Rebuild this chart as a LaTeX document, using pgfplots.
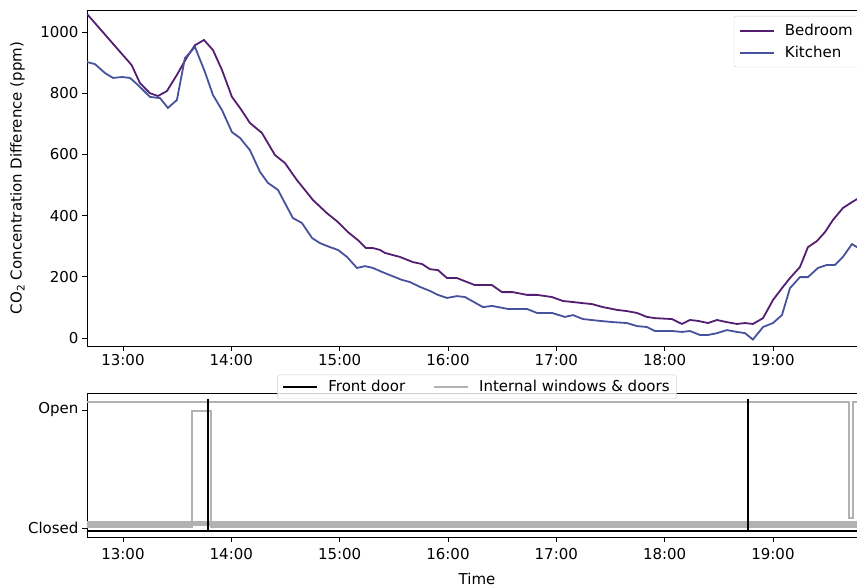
\documentclass[border=0pt]{standalone}
\usepackage{fontspec}
\setmainfont{DejaVu Sans}
\usepackage{pgfplots}
\usepackage{pgfplotstable}
\pgfplotsset{compat=1.18}
\definecolor{bedroom}{RGB}{84,30,112}
\definecolor{kitchen}{RGB}{72,82,156}
\definecolor{gline}{RGB}{178,178,178}

\pgfplotstableread{
t v
12.668 1059
13.080 892
13.157 833
13.249 800
13.323 791
13.406 807
13.498 860
13.591 918
13.665 957
13.748 974
13.831 941
13.914 876
14.006 788
14.080 752
14.172 703
14.283 670
14.403 598
14.495 572
14.606 516
14.754 451
14.883 408
14.985 379
15.077 346
15.169 320
15.243 294
15.308 294
15.372 288
15.419 278
15.557 265
15.677 248
15.760 242
15.834 225
15.908 222
15.991 196
16.083 196
16.176 183
16.249 173
16.406 173
16.499 150
16.600 150
16.729 141
16.822 141
16.960 134
17.062 121
17.145 118
17.246 114
17.329 111
17.431 101
17.560 92
17.652 88
17.745 82
17.837 69
17.911 65
18.068 62
18.160 46
18.234 59
18.308 56
18.400 49
18.483 59
18.575 52
18.667 46
18.742 49
18.815 46
18.908 65
19.000 124
19.083 163
19.157 196
19.249 232
19.323 297
19.406 317
19.480 346
19.554 386
19.646 425
19.729 444
19.776 454
19.822 460
}\bedroomdata

\pgfplotstableread{
t v
12.668 902
12.742 895
12.834 866
12.908 850
12.991 853
13.065 850
13.138 827
13.249 788
13.342 784
13.415 752
13.498 778
13.572 915
13.665 951
13.757 869
13.831 794
13.914 745
14.006 673
14.080 654
14.172 614
14.265 543
14.338 507
14.431 484
14.495 441
14.569 392
14.652 376
14.745 327
14.819 310
14.911 297
14.985 288
15.068 265
15.160 229
15.234 235
15.308 229
15.372 219
15.419 212
15.575 190
15.649 183
15.742 167
15.834 154
15.908 141
15.991 131
16.083 137
16.157 134
16.323 101
16.406 105
16.554 95
16.729 95
16.822 82
16.960 82
17.080 69
17.154 75
17.246 62
17.403 56
17.523 52
17.652 49
17.745 39
17.837 36
17.911 23
18.068 23
18.160 20
18.234 23
18.326 10
18.400 10
18.483 16
18.575 26
18.667 20
18.742 16
18.815 -5
18.908 36
19.000 49
19.083 75
19.157 163
19.249 199
19.323 199
19.415 229
19.498 239
19.572 239
19.646 265
19.729 307
19.776 297
19.822 290
}\kitchendata

\begin{document}
\begin{tikzpicture}[font=\fontsize{15}{18}\selectfont]
\pgfplotsset{
  every axis/.append style={
    scale only axis, width=780pt,
    xmin=12.668, xmax=19.868,
    tick align=outside, xtick pos=bottom, ytick pos=left,
    major tick length=5pt,
    axis line style={line width=0.9pt},
    every tick/.style={black, line width=0.9pt},
    xtick={13,14,15,16,17,18,19},
    xticklabels={13:00,14:00,15:00,16:00,17:00,18:00,19:00},
    /pgf/number format/assume math mode=true,
    /pgf/number format/1000 sep={},
    legend cell align=left,
  }
}
\begin{axis}[at={(0,191pt)}, height=336pt,
  ymin=-26, ymax=1072, ytick={0,200,400,600,800,1000},
  ylabel={CO\textsubscript{2} Concentration Difference (ppm)},
  y label style={at={(axis description cs:-0.089,0.5)}, anchor=center},
  legend image code/.code={\draw[#1, line width=2pt] (0pt,0pt) -- (34pt,0pt);},
  legend style={at={(1,1)}, anchor=north east, xshift=-7pt, yshift=-6pt,
    draw=black!20, rounded corners=2pt, fill=white, fill opacity=0.8, text opacity=1,
    inner xsep=5pt, inner ysep=6pt, row sep=5pt, nodes={inner sep=2pt},
    /tikz/every odd column/.style={column sep=8pt}}]
\addplot[bedroom, line width=1.8pt] table[x=t,y=v]{\bedroomdata};
\addlegendentry{Bedroom}
\addplot[kitchen, line width=1.8pt] table[x=t,y=v]{\kitchendata};
\addlegendentry{Kitchen}
\end{axis}

\begin{axis}[at={(0,0)}, height=144pt,
  ymin=-0.076, ymax=1.144, ytick={0,1}, yticklabels={Closed,Open},
  xlabel={Time}, x label style={yshift=-6pt},
  x tick label style={yshift=-3pt},
  legend columns=2,
  legend image code/.code={\draw[#1, line width=2pt] (0pt,0pt) -- (34pt,0pt);},
  legend style={at={(0.5,1)}, anchor=south, yshift=-6pt,
    draw=black!20, rounded corners=2pt, fill=white, fill opacity=0.8, text opacity=1,
    inner xsep=5pt, inner ysep=3.5pt, nodes={inner sep=2pt},
    /tikz/every odd column/.style={column sep=8pt},
    /tikz/every even column/.style={column sep=26pt}}]
% internal windows and doors
\addplot[gline, line width=1.8pt, forget plot] coordinates {(12.6,1.065) (19.702,1.065) (19.702,0.085) (19.739,0.085) (19.739,1.065) (19.9,1.065)};
\addplot[gline, line width=1.8pt, forget plot] coordinates {(12.6,0.05) (19.9,0.05)};
\addplot[gline, line width=1.8pt, forget plot] coordinates {(12.6,0.035) (19.9,0.035)};
\addplot[gline, line width=1.8pt, forget plot] coordinates {(12.6,0.022) (19.9,0.022)};
\addplot[gline, line width=1.8pt, forget plot] coordinates {(12.6,0.008) (13.634,0.008) (13.634,0.994) (13.812,0.994) (13.812,0.008) (19.9,0.008)};
% front door
\addplot[black, line width=1.8pt] coordinates {(12.6,-0.025) (13.782,-0.025) (13.782,1.093) (13.782,-0.025) (18.772,-0.025) (18.772,1.093) (18.772,-0.025) (19.9,-0.025)};
\addlegendentry{Front door}
\addlegendimage{gline, line width=1.8pt}
\addlegendentry{Internal windows \& doors}
\end{axis}
\pgfresetboundingbox
\useasboundingbox (-87pt,-51pt) rectangle (770pt,537pt);
\end{tikzpicture}
\end{document}
